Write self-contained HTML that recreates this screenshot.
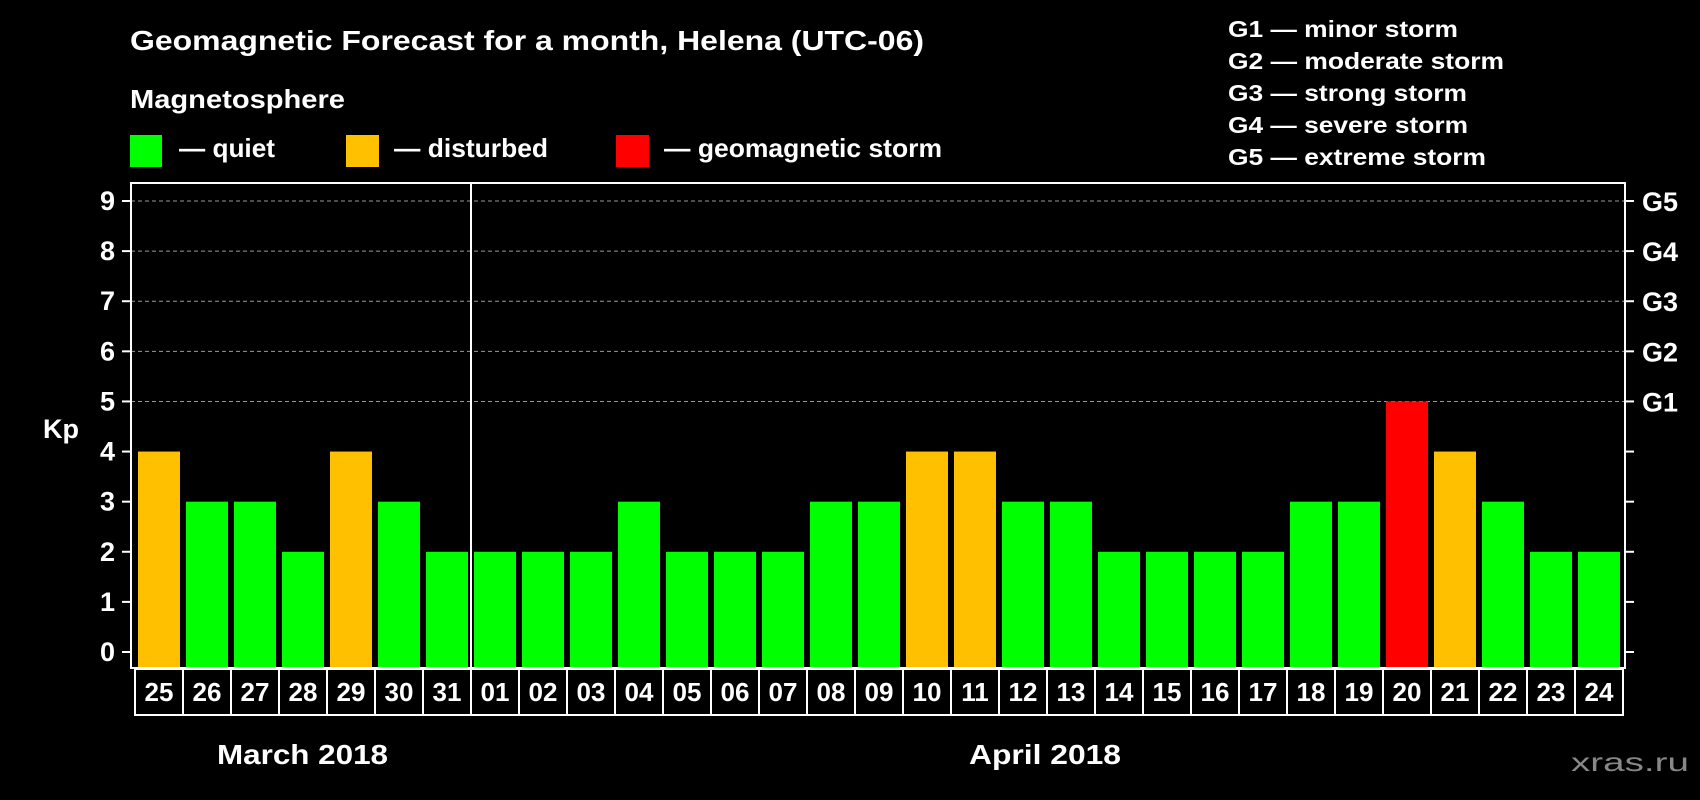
<!DOCTYPE html>
<html><head><meta charset="utf-8"><style>
html,body{margin:0;padding:0;background:#000;}
svg{display:block;font-family:"Liberation Sans",Arial,sans-serif;font-weight:bold;}
</style></head><body>
<svg id="chart" width="1700" height="800" viewBox="0 0 1700 800">
<rect x="0" y="0" width="1700" height="800" fill="#000"/>
<text x="130" y="50" font-size="28" fill="#fff" textLength="794" lengthAdjust="spacingAndGlyphs">Geomagnetic Forecast for a month, Helena (UTC-06)</text>
<text x="130" y="108" font-size="26" fill="#fff" textLength="215" lengthAdjust="spacingAndGlyphs">Magnetosphere</text>
<g>
<rect x="130" y="135" width="32" height="32" fill="#00ff00"/>
<text x="179" y="157" font-size="26" fill="#fff" textLength="96" lengthAdjust="spacingAndGlyphs">— quiet</text>
</g>
<g>
<rect x="346" y="135" width="33" height="32" fill="#ffc000"/>
<text x="394" y="157" font-size="26" fill="#fff" textLength="154" lengthAdjust="spacingAndGlyphs">— disturbed</text>
</g>
<g>
<rect x="616" y="135" width="33" height="32" fill="#ff0000"/>
<text x="664" y="157" font-size="26" fill="#fff" textLength="278" lengthAdjust="spacingAndGlyphs">— geomagnetic storm</text>
</g>
<g>
<text x="1228" y="37" font-size="23" fill="#fff" textLength="230" lengthAdjust="spacingAndGlyphs">G1 — minor storm</text>
<text x="1228" y="69" font-size="23" fill="#fff" textLength="276" lengthAdjust="spacingAndGlyphs">G2 — moderate storm</text>
<text x="1228" y="101" font-size="23" fill="#fff" textLength="239" lengthAdjust="spacingAndGlyphs">G3 — strong storm</text>
<text x="1228" y="133" font-size="23" fill="#fff" textLength="240" lengthAdjust="spacingAndGlyphs">G4 — severe storm</text>
<text x="1228" y="165" font-size="23" fill="#fff" textLength="258" lengthAdjust="spacingAndGlyphs">G5 — extreme storm</text>
</g>
<text x="43" y="438" font-size="27" fill="#fff">Kp</text>
<g id="grid"></g>
<g id="bars"></g>
<g id="axes"></g>
<text x="217" y="764" font-size="28" fill="#fff" textLength="171" lengthAdjust="spacingAndGlyphs">March 2018</text>
<text x="969" y="764" font-size="28" fill="#fff" textLength="152" lengthAdjust="spacingAndGlyphs">April 2018</text>
<text x="1571" y="771" font-size="26" fill="#888" font-weight="normal" textLength="118" lengthAdjust="spacingAndGlyphs">xras.ru</text>
</svg>
<script>
const days = ["25","26","27","28","29","30","31","01","02","03","04","05","06","07","08","09","10","11","12","13","14","15","16","17","18","19","20","21","22","23","24"];
const kp = [4,3,3,2,4,3,2,2,2,2,3,2,2,2,3,3,4,4,3,3,2,2,2,2,3,3,5,4,3,2,2];
const yTicks = [0,1,2,3,4,5,6,7,8,9];
const gLabels = ["G1","G2","G3","G4","G5"];
const gLevels = [5,6,7,8,9];

(function(){
const NS="http://www.w3.org/2000/svg";
const pLeft=131, pRight=1625, pTop=183, pBottom=668, firstBar=138, pitch=48, barW=42;
function yS(v){return 652 - v*(652-201)/9;}
function xS(i){return firstBar + i*pitch;}
function mk(tag, attrs, parent){const e=document.createElementNS(NS,tag);for(const k in attrs)e.setAttribute(k,attrs[k]);parent.appendChild(e);return e;}
function color(v){return v>=5?"#ff0000":(v>=4?"#ffc000":"#00ff00");}

const grid=document.getElementById('grid'), bars=document.getElementById('bars'), axes=document.getElementById('axes');
gLevels.forEach((lv,i)=>{
  const l=mk('line',{x1:pLeft,x2:pRight,y1:yS(lv),y2:yS(lv),stroke:'#999','stroke-width':1,'stroke-dasharray':'4 3'},grid);
  
  
});
kp.forEach((v,i)=>{
  const r=mk('rect',{x:xS(i),y:yS(v),width:barW,height:pBottom-yS(v),fill:color(v)},bars);
  
  
});
const frame=mk('rect',{x:pLeft,y:pTop,width:pRight-pLeft,height:pBottom-pTop,fill:'none',stroke:'#fff','stroke-width':2},axes);


const div=mk('line',{x1:471,x2:471,y1:pTop,y2:pBottom,stroke:'#fff','stroke-width':2},axes);


yTicks.forEach(t=>{
  const tl=mk('line',{x1:pLeft-9,x2:pLeft,y1:yS(t),y2:yS(t),stroke:'#fff','stroke-width':2},axes);
  
  
  const tr=mk('line',{x1:pRight,x2:pRight+9,y1:yS(t),y2:yS(t),stroke:'#fff','stroke-width':2},axes);
  
  
  const tx=mk('text',{x:115,y:yS(t)+9,'font-size':27,fill:'#fff','text-anchor':'end'},axes);
  tx.textContent=t;
  
  
});
gLevels.forEach((lv,i)=>{
  const g=mk('text',{x:1642,y:yS(lv)+10,'font-size':27,fill:'#fff'},axes);
  g.textContent=gLabels[i];
  
  
});
days.forEach((d,i)=>{
  const bx=135+i*pitch;
  const b=mk('rect',{x:bx,y:669,width:pitch,height:46,fill:'none',stroke:'#fff','stroke-width':2},axes);
  
  
  const t=mk('text',{x:bx+pitch/2,y:701,'font-size':26,fill:'#fff','text-anchor':'middle'},axes);
  t.textContent=d;
  
  
});
})();
</script>
</body></html>
